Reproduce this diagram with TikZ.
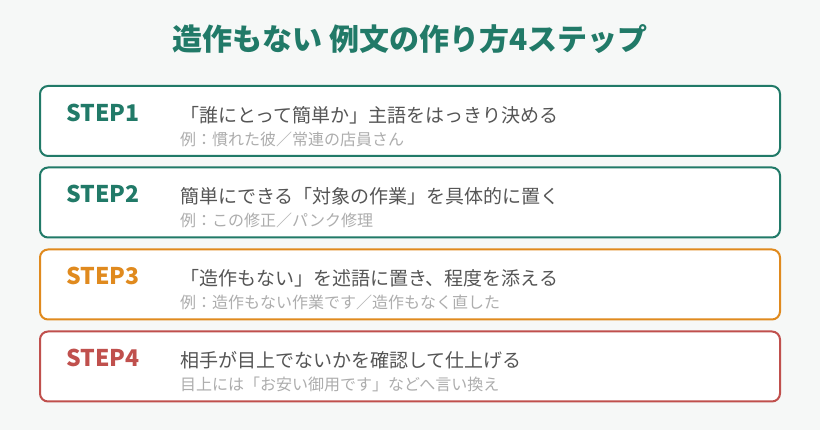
\documentclass[tikz,border=0pt]{standalone}
\usepackage{fontspec}
\setmainfont{Noto Sans CJK JP}
\usepackage{xcolor}
\usetikzlibrary{positioning}
\definecolor{pagebg}{HTML}{F6F8F7}
\definecolor{stepgreen}{HTML}{217A68}
\definecolor{steporange}{HTML}{E08A1E}
\definecolor{stepred}{HTML}{C0504D}
\definecolor{maingray}{HTML}{555555}
\definecolor{subgray}{HTML}{ADADAD}
\tikzstyle{stepbox}=[draw, line width=2pt, rounded corners=8pt, fill=white, minimum width=740pt, minimum height=70pt, inner sep=0pt]
\tikzstyle{steplabel}=[anchor=west, inner sep=0pt, font=\fontsize{23}{23}\selectfont\bfseries]
\tikzstyle{maintext}=[anchor=west, inner sep=0pt, text=maingray, font=\fontsize{19}{19}\selectfont]
\tikzstyle{subtext}=[anchor=west, inner sep=0pt, text=subgray, font=\fontsize{16}{16}\selectfont]

\begin{document}
\begin{tikzpicture}[x=1pt, y=-1pt]

\fill[pagebg] (0,0) rectangle (820,430);
\useasboundingbox (0,0) rectangle (820,430);

\node[text=stepgreen, font=\fontsize{30}{30}\selectfont\bfseries] (title) at (410,39) {造作もない 例文の作り方4ステップ};

% STEP1
\node[stepbox, draw=stepgreen] (box1) at (410,121) {};
\node[steplabel, text=stepgreen] (label1) at (66,112.5) {STEP1};
\node[maintext] (main1) at (180,115) {「誰にとって簡単か」主語をはっきり決める};
\node[subtext] (sub1) at (180,139) {例：慣れた彼／常連の店員さん};

% STEP2
\node[stepbox, draw=stepgreen] (box2) at (410,202.5) {};
\node[steplabel, text=stepgreen] (label2) at (66,194) {STEP2};
\node[maintext] (main2) at (180,196.5) {簡単にできる「対象の作業」を具体的に置く};
\node[subtext] (sub2) at (180,220.5) {例：この修正／パンク修理};

% STEP3
\node[stepbox, draw=steporange] (box3) at (410,284.5) {};
\node[steplabel, text=steporange] (label3) at (66,276) {STEP3};
\node[maintext] (main3) at (180,278.5) {「造作もない」を述語に置き、程度を添える};
\node[subtext] (sub3) at (180,302.5) {例：造作もない作業です／造作もなく直した};

% STEP4
\node[stepbox, draw=stepred] (box4) at (410,366.5) {};
\node[steplabel, text=stepred] (label4) at (66,358) {STEP4};
\node[maintext] (main4) at (180,360.5) {相手が目上でないかを確認して仕上げる};
\node[subtext] (sub4) at (180,384.5) {目上には「お安い御用です」などへ言い換え};

\end{tikzpicture}
\end{document}
